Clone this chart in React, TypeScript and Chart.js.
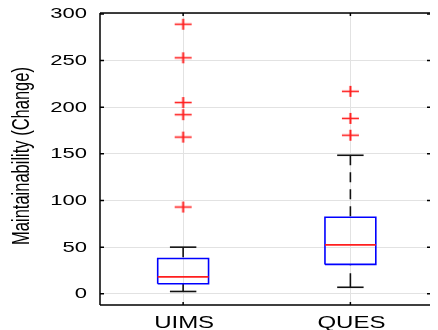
import React, { useEffect, useRef } from "react";
import { Chart, registerables } from "chart.js";

Chart.register(...registerables);

const categories = ["UIMS", "QUES"];
const whiskerLow = [2.5, 7];
const q1 = [10.7, 31.5];
const median = [18.2, 52.5];
const q3 = [37.8, 82];
const whiskerHigh = [50, 148.5];
const outliersUIMS = [93, 168, 192, 205, 253, 289];
const outliersQUES = [170, 188, 217];
const yTicks = [0, 50, 100, 150, 200, 250, 300];
const yTitle = "Maintainability (Change)";

const STRETCH = 1.5;

function makeCross(): HTMLCanvasElement {
  const c = document.createElement("canvas");
  c.width = 19;
  c.height = 13;
  const g = c.getContext("2d")!;
  g.strokeStyle = "rgb(255,30,30)";
  g.lineWidth = 1.6;
  g.beginPath();
  g.moveTo(1, 6.5);
  g.lineTo(18, 6.5);
  g.stroke();
  g.lineWidth = 2;
  g.beginPath();
  g.moveTo(9.5, 1);
  g.lineTo(9.5, 12);
  g.stroke();
  return c;
}

const framePlugin = {
  id: "frame",
  afterDraw(chart: any) {
    const ctx = chart.ctx as CanvasRenderingContext2D;
    const { left, right, top, bottom } = chart.chartArea;
    const xs = chart.scales.x;
    const ys = chart.scales.y;
    ctx.save();
    // frame
    ctx.strokeStyle = "#000";
    ctx.lineWidth = 1.5;
    ctx.beginPath();
    ctx.moveTo(left, top);
    ctx.lineTo(right + 1, top);
    ctx.moveTo(left, top);
    ctx.lineTo(left, bottom);
    ctx.moveTo(left, bottom);
    ctx.lineTo(right + 1, bottom);
    ctx.stroke();
    // inward ticks
    ctx.lineWidth = 1.5;
    ctx.beginPath();
    yTicks.forEach((v) => {
      const py = ys.getPixelForValue(v);
      ctx.moveTo(left, py);
      ctx.lineTo(left + 4, py);
      ctx.moveTo(right + 1, py);
      ctx.lineTo(right - 2, py);
    });
    categories.forEach((_, i) => {
      const px = xs.getPixelForValue(i + 1);
      ctx.moveTo(px, top);
      ctx.lineTo(px, top + 3);
      ctx.moveTo(px, bottom);
      ctx.lineTo(px, bottom - 3);
    });
    ctx.stroke();

    ctx.fillStyle = "#000";
    // y tick labels
    ctx.font = '14px "Liberation Sans", Arial, sans-serif';
    ctx.textBaseline = "middle";
    ctx.textAlign = "right";
    yTicks.forEach((v) => {
      const py = ys.getPixelForValue(v);
      ctx.save();
      ctx.translate(87, py + 0.5);
      ctx.scale(STRETCH * 1.05, 1);
      ctx.fillText(String(v), 0, 0);
      ctx.restore();
    });
    // x labels
    ctx.font = '16px "Liberation Sans", Arial, sans-serif';
    ctx.textBaseline = "alphabetic";
    ctx.textAlign = "center";
    categories.forEach((c, i) => {
      const px = xs.getPixelForValue(i + 1);
      ctx.save();
      ctx.translate(px + 1, 328);
      ctx.scale(STRETCH, 1);
      ctx.fillText(c, 0, 0);
      ctx.restore();
    });
    // y title
    ctx.font = '16.5px "Liberation Sans", Arial, sans-serif';
    ctx.textBaseline = "middle";
    ctx.textAlign = "center";
    ctx.save();
    ctx.translate(22, 156);
    ctx.scale(STRETCH, 1);
    ctx.rotate(-Math.PI / 2);
    ctx.fillText(yTitle, 0, 0);
    ctx.restore();
    ctx.restore();
  },
};

export default function App() {
  const ref = useRef<HTMLCanvasElement>(null);
  useEffect(() => {
    const cross = makeCross();
    const boxHalf = 0.152;
    const capHalf = 0.079;
    const lineDs = (data: any[], color: string, dash: number[] = []) => ({
      type: "line",
      data,
      borderColor: color,
      borderWidth: 1.6,
      borderDash: dash,
      pointRadius: 0,
      fill: false,
      tension: 0,
      showLine: true,
    });
    const datasets: any[] = [];
    datasets.push({
      type: "scatter",
      data: [
        ...outliersUIMS.map((y) => ({ x: 1, y })),
        ...outliersQUES.map((y) => ({ x: 2, y })),
      ],
      pointStyle: cross,
      pointRadius: 8,
      showLine: false,
    });
    categories.forEach((_, i) => {
      const x = i + 1;
      datasets.push(
        lineDs(
          [
            { x: x - boxHalf, y: median[i] },
            { x: x + boxHalf, y: median[i] },
          ],
          "rgb(255,30,30)"
        )
      );
    });
    categories.forEach((_, i) => {
      const x = i + 1;
      datasets.push(
        lineDs(
          [
            { x: x - boxHalf, y: q1[i] },
            { x: x + boxHalf, y: q1[i] },
            { x: x + boxHalf, y: q3[i] },
            { x: x - boxHalf, y: q3[i] },
            { x: x - boxHalf, y: q1[i] },
          ],
          "rgb(0,0,255)"
        )
      );
    });
    categories.forEach((_, i) => {
      const x = i + 1;
      datasets.push(
        lineDs(
          [
            { x: x - capHalf, y: whiskerLow[i] },
            { x: x + capHalf, y: whiskerLow[i] },
          ],
          "#111"
        )
      );
      datasets.push(
        lineDs(
          [
            { x: x - capHalf, y: whiskerHigh[i] },
            { x: x + capHalf, y: whiskerHigh[i] },
          ],
          "#111"
        )
      );
      datasets.push(
        lineDs(
          [
            { x, y: whiskerLow[i] },
            { x, y: q1[i] },
          ],
          "#111",
          [14, 8]
        )
      );
      datasets.push(
        lineDs(
          [
            { x, y: whiskerHigh[i] },
            { x, y: q3[i] },
          ],
          "#111",
          [10, 7]
        )
      );
    });

    const chart = new Chart(ref.current!, {
      type: "scatter",
      data: { datasets },
      options: {
        animation: false,
        responsive: false,
        devicePixelRatio: 1,
        layout: { padding: { left: 100, top: 13, right: 1, bottom: 25 } },
        plugins: { legend: { display: false }, tooltip: { enabled: false } },
        scales: {
          x: {
            type: "linear",
            min: 0.503,
            max: 2.47,
            afterBuildTicks: (s: any) => {
              s.ticks = categories.map((_, i) => ({ value: i + 1 }));
            },
            afterFit: (s: any) => {
              s.height = 0;
            },
            ticks: { display: false },
            border: { display: false },
            grid: { color: "#e2e2e2", lineWidth: 1, drawTicks: false },
          },
          y: {
            type: "linear",
            min: -12,
            max: 301,
            afterBuildTicks: (s: any) => {
              s.ticks = yTicks.map((v) => ({ value: v }));
            },
            afterFit: (s: any) => {
              s.width = 0;
            },
            ticks: { display: false },
            border: { display: false },
            grid: { color: "#e2e2e2", lineWidth: 1, drawTicks: false },
          },
        },
      },
      plugins: [framePlugin],
    } as any);
    return () => chart.destroy();
  }, []);
  return (
    <div style={{ position: "absolute", left: 0, top: 0, width: 438, height: 330, background: "#fff" }}>
      <canvas ref={ref} width={438} height={330} style={{ display: "block" }} />
    </div>
  );
}
